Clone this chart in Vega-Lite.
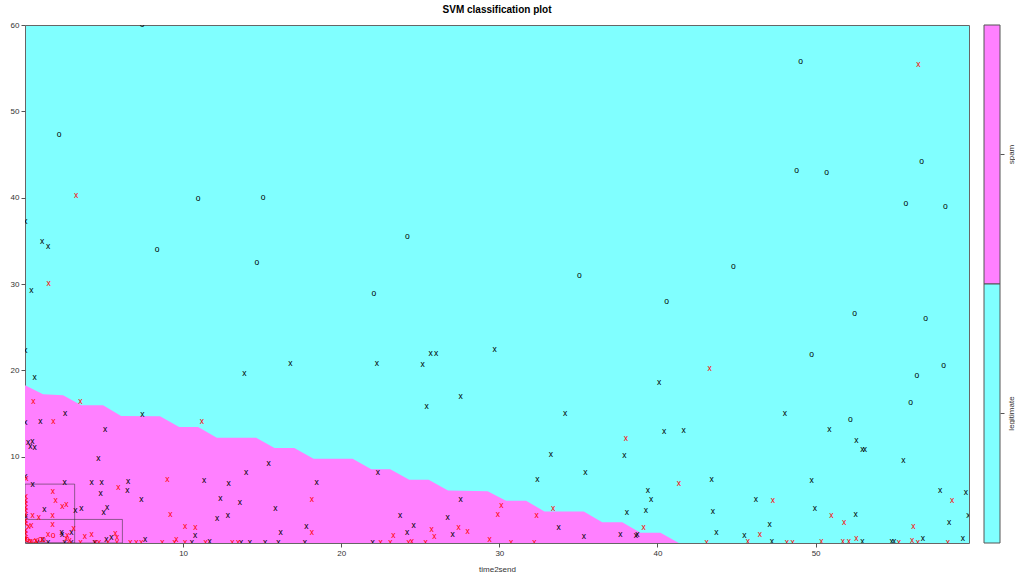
{
  "$schema": "https://vega.github.io/schema/vega-lite/v6.json",
  "padding": {"left": 5, "top": 4, "right": 0, "bottom": 0},
  "background": "white",
  "config": {"font": "Liberation Sans", "view": {"stroke": null}},
  "datasets": {
    "boundary": [
      {"t": 0, "b": 18.27}, {"t": 1.14, "b": 17.23}, {"t": 2.41, "b": 17.11}, {"t": 3.56, "b": 15.95}, {"t": 4.94, "b": 15.95},
      {"t": 6.08, "b": 14.71}, {"t": 8.54, "b": 14.68}, {"t": 9.75, "b": 13.43}, {"t": 10.95, "b": 13.43}, {"t": 12.13, "b": 12.2},
      {"t": 14.62, "b": 12.2}, {"t": 15.78, "b": 11.0}, {"t": 17.03, "b": 11.0}, {"t": 18.25, "b": 9.77}, {"t": 20.72, "b": 9.77},
      {"t": 21.9, "b": 8.53}, {"t": 23.1, "b": 8.53}, {"t": 24.3, "b": 7.33}, {"t": 25.53, "b": 7.33}, {"t": 26.75, "b": 6.09},
      {"t": 29.26, "b": 6.0}, {"t": 30.42, "b": 4.9}, {"t": 31.69, "b": 4.9}, {"t": 32.85, "b": 3.65}, {"t": 35.34, "b": 3.65},
      {"t": 36.5, "b": 2.41}, {"t": 37.77, "b": 2.41}, {"t": 38.92, "b": 1.18}, {"t": 40.19, "b": 1.18}, {"t": 41.35, "b": 0}
    ],
    "boxes": [
      {"x1": 0, "x2": 3.14, "y1": 0, "y2": 6.82},
      {"x1": 0, "x2": 6.16, "y1": 0, "y2": 2.73}
    ],
    "points": [
      {"t": 7.4, "v": 60, "s": "o", "c": "legitimate"}, {"t": 2.16, "v": 47.3, "s": "o", "c": "legitimate"},
      {"t": 10.95, "v": 39.85, "s": "o", "c": "legitimate"}, {"t": 15.06, "v": 39.97, "s": "o", "c": "legitimate"},
      {"t": 8.35, "v": 33.97, "s": "o", "c": "legitimate"}, {"t": 14.66, "v": 32.4, "s": "o", "c": "legitimate"},
      {"t": 22.07, "v": 28.86, "s": "o", "c": "legitimate"}, {"t": 24.18, "v": 35.48, "s": "o", "c": "legitimate"},
      {"t": 49.05, "v": 55.74, "s": "o", "c": "legitimate"}, {"t": 48.8, "v": 43.1, "s": "o", "c": "legitimate"},
      {"t": 50.7, "v": 42.9, "s": "o", "c": "legitimate"}, {"t": 56.7, "v": 44.1, "s": "o", "c": "legitimate"},
      {"t": 55.7, "v": 39.3, "s": "o", "c": "legitimate"}, {"t": 58.2, "v": 38.9, "s": "o", "c": "legitimate"},
      {"t": 44.8, "v": 32.0, "s": "o", "c": "legitimate"}, {"t": 35.06, "v": 30.9, "s": "o", "c": "legitimate"},
      {"t": 40.57, "v": 27.9, "s": "o", "c": "legitimate"}, {"t": 52.47, "v": 26.5, "s": "o", "c": "legitimate"},
      {"t": 56.96, "v": 25.9, "s": "o", "c": "legitimate"}, {"t": 49.75, "v": 21.75, "s": "o", "c": "legitimate"},
      {"t": 58.1, "v": 20.5, "s": "o", "c": "legitimate"}, {"t": 56.4, "v": 19.4, "s": "o", "c": "legitimate"},
      {"t": 56.0, "v": 16.2, "s": "o", "c": "legitimate"}, {"t": 52.2, "v": 14.2, "s": "o", "c": "legitimate"},
      {"t": 3.23, "v": 40.2, "s": "x", "c": "spam"}, {"t": 56.5, "v": 55.4, "s": "x", "c": "spam"},
      {"t": 1.5, "v": 29.95, "s": "x", "c": "spam"}, {"t": 43.3, "v": 20.1, "s": "x", "c": "spam"},
      {"t": 1.08, "v": 34.83, "s": "x", "c": "legitimate"}, {"t": 1.46, "v": 34.25, "s": "x", "c": "legitimate"},
      {"t": 0.4, "v": 29.2, "s": "x", "c": "legitimate"}, {"t": 0.02, "v": 37.2, "s": "x", "c": "legitimate"},
      {"t": 0.02, "v": 22.2, "s": "x", "c": "legitimate"}, {"t": 29.7, "v": 22.37, "s": "x", "c": "legitimate"},
      {"t": 25.65, "v": 21.87, "s": "x", "c": "legitimate"}, {"t": 26.0, "v": 21.87, "s": "x", "c": "legitimate"},
      {"t": 25.15, "v": 20.63, "s": "x", "c": "legitimate"}, {"t": 22.26, "v": 20.79, "s": "x", "c": "legitimate"},
      {"t": 16.79, "v": 20.7, "s": "x", "c": "legitimate"}, {"t": 13.88, "v": 19.58, "s": "x", "c": "legitimate"},
      {"t": 0.61, "v": 19.12, "s": "x", "c": "legitimate"}, {"t": 40.1, "v": 18.58, "s": "x", "c": "legitimate"},
      {"t": 27.55, "v": 16.88, "s": "x", "c": "legitimate"}, {"t": 25.4, "v": 15.75, "s": "x", "c": "legitimate"},
      {"t": 34.16, "v": 14.94, "s": "x", "c": "legitimate"}, {"t": 48.06, "v": 14.99, "s": "x", "c": "legitimate"},
      {"t": 7.43, "v": 14.83, "s": "x", "c": "legitimate"}, {"t": 2.53, "v": 14.94, "s": "x", "c": "legitimate"},
      {"t": 0.02, "v": 13.94, "s": "x", "c": "legitimate"}, {"t": 0.97, "v": 13.98, "s": "x", "c": "legitimate"},
      {"t": 5.06, "v": 13.13, "s": "x", "c": "legitimate"}, {"t": 40.42, "v": 12.82, "s": "x", "c": "legitimate"},
      {"t": 41.65, "v": 12.93, "s": "x", "c": "legitimate"}, {"t": 50.87, "v": 13.13, "s": "x", "c": "legitimate"},
      {"t": 52.57, "v": 11.77, "s": "x", "c": "legitimate"}, {"t": 52.95, "v": 10.73, "s": "x", "c": "legitimate"},
      {"t": 53.12, "v": 10.81, "s": "x", "c": "legitimate"}, {"t": 55.55, "v": 9.49, "s": "x", "c": "legitimate"},
      {"t": 33.25, "v": 10.23, "s": "x", "c": "legitimate"}, {"t": 37.91, "v": 10.07, "s": "x", "c": "legitimate"},
      {"t": 0.19, "v": 11.54, "s": "x", "c": "legitimate"}, {"t": 0.46, "v": 11.69, "s": "x", "c": "legitimate"},
      {"t": 0.34, "v": 11.11, "s": "x", "c": "legitimate"}, {"t": 0.61, "v": 10.96, "s": "x", "c": "legitimate"},
      {"t": 4.64, "v": 9.77, "s": "x", "c": "legitimate"}, {"t": 15.4, "v": 9.1, "s": "x", "c": "legitimate"},
      {"t": 13.99, "v": 8.1, "s": "x", "c": "legitimate"}, {"t": 35.44, "v": 8.1, "s": "x", "c": "legitimate"},
      {"t": 22.32, "v": 8.1, "s": "x", "c": "legitimate"}, {"t": 32.4, "v": 7.33, "s": "x", "c": "legitimate"},
      {"t": 43.42, "v": 7.25, "s": "x", "c": "legitimate"}, {"t": 49.75, "v": 7.21, "s": "x", "c": "legitimate"},
      {"t": 11.33, "v": 7.17, "s": "x", "c": "legitimate"}, {"t": 12.87, "v": 6.79, "s": "x", "c": "legitimate"},
      {"t": 18.44, "v": 6.98, "s": "x", "c": "legitimate"}, {"t": 0.02, "v": 7.63, "s": "x", "c": "legitimate"},
      {"t": 0.49, "v": 6.71, "s": "x", "c": "legitimate"}, {"t": 2.51, "v": 6.94, "s": "x", "c": "legitimate"},
      {"t": 4.22, "v": 6.94, "s": "x", "c": "legitimate"}, {"t": 4.85, "v": 6.94, "s": "x", "c": "legitimate"},
      {"t": 6.52, "v": 7.1, "s": "x", "c": "legitimate"}, {"t": 6.47, "v": 6.01, "s": "x", "c": "legitimate"},
      {"t": 4.79, "v": 5.66, "s": "x", "c": "legitimate"}, {"t": 39.39, "v": 5.97, "s": "x", "c": "legitimate"},
      {"t": 57.87, "v": 5.97, "s": "x", "c": "legitimate"}, {"t": 59.5, "v": 5.78, "s": "x", "c": "legitimate"},
      {"t": 39.6, "v": 5.01, "s": "x", "c": "legitimate"}, {"t": 46.22, "v": 4.93, "s": "x", "c": "legitimate"},
      {"t": 7.36, "v": 4.93, "s": "x", "c": "legitimate"}, {"t": 12.36, "v": 5.05, "s": "x", "c": "legitimate"},
      {"t": 13.59, "v": 4.66, "s": "x", "c": "legitimate"}, {"t": 27.55, "v": 4.97, "s": "x", "c": "legitimate"},
      {"t": 1.22, "v": 3.77, "s": "x", "c": "legitimate"}, {"t": 3.18, "v": 3.69, "s": "x", "c": "legitimate"},
      {"t": 3.56, "v": 3.92, "s": "x", "c": "legitimate"}, {"t": 5.19, "v": 4.04, "s": "x", "c": "legitimate"},
      {"t": 4.98, "v": 3.42, "s": "x", "c": "legitimate"}, {"t": 15.84, "v": 3.89, "s": "x", "c": "legitimate"},
      {"t": 49.96, "v": 3.89, "s": "x", "c": "legitimate"}, {"t": 38.06, "v": 3.42, "s": "x", "c": "legitimate"},
      {"t": 39.26, "v": 3.73, "s": "x", "c": "legitimate"}, {"t": 43.5, "v": 3.58, "s": "x", "c": "legitimate"},
      {"t": 59.66, "v": 3.07, "s": "x", "c": "legitimate"}, {"t": 52.53, "v": 3.19, "s": "x", "c": "legitimate"},
      {"t": 23.73, "v": 3.11, "s": "x", "c": "legitimate"}, {"t": 12.83, "v": 3.11, "s": "x", "c": "legitimate"},
      {"t": 12.15, "v": 2.76, "s": "x", "c": "legitimate"}, {"t": 26.73, "v": 2.92, "s": "x", "c": "legitimate"},
      {"t": 58.44, "v": 2.34, "s": "x", "c": "legitimate"}, {"t": 47.09, "v": 2.03, "s": "x", "c": "legitimate"},
      {"t": 24.58, "v": 1.95, "s": "x", "c": "legitimate"}, {"t": 17.8, "v": 1.83, "s": "x", "c": "legitimate"},
      {"t": 33.75, "v": 1.68, "s": "x", "c": "legitimate"}, {"t": 43.73, "v": 1.18, "s": "x", "c": "legitimate"},
      {"t": 16.16, "v": 1.14, "s": "x", "c": "legitimate"}, {"t": 24.16, "v": 1.14, "s": "x", "c": "legitimate"},
      {"t": 2.32, "v": 1.14, "s": "x", "c": "legitimate"}, {"t": 2.93, "v": 1.14, "s": "x", "c": "legitimate"},
      {"t": 2.34, "v": 0.95, "s": "x", "c": "legitimate"}, {"t": 27.04, "v": 0.91, "s": "x", "c": "legitimate"},
      {"t": 37.66, "v": 0.87, "s": "x", "c": "legitimate"}, {"t": 38.63, "v": 0.83, "s": "x", "c": "legitimate"},
      {"t": 38.73, "v": 0.95, "s": "x", "c": "legitimate"}, {"t": 10.76, "v": 0.79, "s": "x", "c": "legitimate"},
      {"t": 45.49, "v": 0.79, "s": "x", "c": "legitimate"}, {"t": 35.34, "v": 0.67, "s": "x", "c": "legitimate"},
      {"t": 5.46, "v": 0.56, "s": "x", "c": "legitimate"}, {"t": 56.79, "v": 0.41, "s": "x", "c": "legitimate"},
      {"t": 59.32, "v": 0.52, "s": "x", "c": "legitimate"}, {"t": 1.12, "v": 0.4, "s": "x", "c": "legitimate"},
      {"t": 7.59, "v": 0.29, "s": "x", "c": "legitimate"}, {"t": 5.15, "v": 0.29, "s": "x", "c": "legitimate"},
      {"t": 11.67, "v": 0.17, "s": "x", "c": "legitimate"}, {"t": 47.23, "v": 0.17, "s": "x", "c": "legitimate"},
      {"t": 54.8, "v": 0.17, "s": "x", "c": "legitimate"}, {"t": 54.96, "v": 0.06, "s": "x", "c": "legitimate"},
      {"t": 52.95, "v": 0.06, "s": "x", "c": "legitimate"}, {"t": 10.55, "v": 0.03, "s": "x", "c": "legitimate"},
      {"t": 13.67, "v": 0.03, "s": "x", "c": "legitimate"}, {"t": 14.22, "v": 0.03, "s": "x", "c": "legitimate"},
      {"t": 15.19, "v": 0.03, "s": "x", "c": "legitimate"}, {"t": 16.03, "v": 0.03, "s": "x", "c": "legitimate"},
      {"t": 17.7, "v": 0.03, "s": "x", "c": "legitimate"}, {"t": 21.98, "v": 0.03, "s": "x", "c": "legitimate"},
      {"t": 2.51, "v": 0.05, "s": "x", "c": "legitimate"}, {"t": 2.93, "v": 0.05, "s": "x", "c": "legitimate"},
      {"t": 4.41, "v": 0.03, "s": "x", "c": "legitimate"}, {"t": 1.46, "v": 0.05, "s": "x", "c": "legitimate"},
      {"t": 0.78, "v": 0.05, "s": "x", "c": "legitimate"}, {"t": 0.05, "v": 3.0, "s": "x", "c": "legitimate"},
      {"t": 0.53, "v": 16.3, "s": "x", "c": "spam"}, {"t": 3.5, "v": 16.3, "s": "x", "c": "spam"},
      {"t": 1.79, "v": 14.06, "s": "x", "c": "spam"}, {"t": 11.18, "v": 13.98, "s": "x", "c": "spam"},
      {"t": 38.0, "v": 12.04, "s": "x", "c": "spam"}, {"t": 41.35, "v": 6.79, "s": "x", "c": "spam"},
      {"t": 9.0, "v": 7.29, "s": "x", "c": "spam"}, {"t": 0.08, "v": 7.4, "s": "x", "c": "spam"},
      {"t": 5.91, "v": 6.4, "s": "x", "c": "spam"}, {"t": 1.77, "v": 5.9, "s": "x", "c": "spam"},
      {"t": 47.3, "v": 4.85, "s": "x", "c": "spam"}, {"t": 58.63, "v": 4.81, "s": "x", "c": "spam"},
      {"t": 18.14, "v": 4.93, "s": "x", "c": "spam"}, {"t": 30.13, "v": 4.23, "s": "x", "c": "spam"},
      {"t": 1.94, "v": 4.85, "s": "x", "c": "spam"}, {"t": 2.62, "v": 4.43, "s": "x", "c": "spam"},
      {"t": 2.36, "v": 4.12, "s": "x", "c": "spam"}, {"t": 33.4, "v": 3.92, "s": "x", "c": "spam"},
      {"t": 29.9, "v": 3.27, "s": "x", "c": "spam"}, {"t": 32.36, "v": 3.11, "s": "x", "c": "spam"},
      {"t": 9.2, "v": 3.23, "s": "x", "c": "spam"}, {"t": 51.0, "v": 3.07, "s": "x", "c": "spam"},
      {"t": 1.75, "v": 3.11, "s": "x", "c": "spam"}, {"t": 0.49, "v": 3.1, "s": "x", "c": "spam"},
      {"t": 0.87, "v": 2.92, "s": "x", "c": "spam"}, {"t": 51.8, "v": 2.26, "s": "x", "c": "spam"},
      {"t": 1.75, "v": 2.11, "s": "x", "c": "spam"}, {"t": 0.4, "v": 2.0, "s": "x", "c": "spam"},
      {"t": 0.23, "v": 1.83, "s": "x", "c": "spam"}, {"t": 10.13, "v": 1.91, "s": "x", "c": "spam"},
      {"t": 10.78, "v": 1.72, "s": "x", "c": "spam"}, {"t": 56.18, "v": 1.83, "s": "x", "c": "spam"},
      {"t": 27.42, "v": 1.76, "s": "x", "c": "spam"}, {"t": 39.13, "v": 1.68, "s": "x", "c": "spam"},
      {"t": 3.08, "v": 1.57, "s": "x", "c": "spam"}, {"t": 25.72, "v": 1.53, "s": "x", "c": "spam"},
      {"t": 28.0, "v": 1.22, "s": "x", "c": "spam"}, {"t": 18.14, "v": 1.18, "s": "x", "c": "spam"},
      {"t": 46.48, "v": 0.87, "s": "x", "c": "spam"}, {"t": 1.47, "v": 0.91, "s": "x", "c": "spam"},
      {"t": 3.78, "v": 0.75, "s": "x", "c": "spam"}, {"t": 4.22, "v": 0.87, "s": "x", "c": "spam"},
      {"t": 5.72, "v": 0.99, "s": "x", "c": "spam"}, {"t": 5.82, "v": 0.56, "s": "x", "c": "spam"},
      {"t": 2.68, "v": 0.79, "s": "x", "c": "spam"}, {"t": 2.61, "v": 0.49, "s": "x", "c": "spam"},
      {"t": 25.89, "v": 0.75, "s": "x", "c": "spam"}, {"t": 23.29, "v": 0.83, "s": "x", "c": "spam"},
      {"t": 52.57, "v": 0.52, "s": "x", "c": "spam"}, {"t": 9.58, "v": 0.33, "s": "x", "c": "spam"},
      {"t": 29.39, "v": 0.37, "s": "x", "c": "spam"}, {"t": 2.83, "v": 0.21, "s": "x", "c": "spam"},
      {"t": 45.72, "v": 0.17, "s": "x", "c": "spam"}, {"t": 56.1, "v": 0.21, "s": "x", "c": "spam"},
      {"t": 51.73, "v": 0.17, "s": "x", "c": "spam"}, {"t": 52.1, "v": 0.09, "s": "x", "c": "spam"},
      {"t": 3.52, "v": 0.03, "s": "x", "c": "spam"}, {"t": 4.47, "v": 0.03, "s": "x", "c": "spam"},
      {"t": 4.68, "v": 0.03, "s": "x", "c": "spam"}, {"t": 5.25, "v": 0.03, "s": "x", "c": "spam"},
      {"t": 5.82, "v": 0.03, "s": "x", "c": "spam"}, {"t": 6.66, "v": 0.03, "s": "x", "c": "spam"},
      {"t": 7.04, "v": 0.03, "s": "x", "c": "spam"}, {"t": 7.36, "v": 0.03, "s": "x", "c": "spam"},
      {"t": 8.69, "v": 0.03, "s": "x", "c": "spam"}, {"t": 9.47, "v": 0.03, "s": "x", "c": "spam"},
      {"t": 10.13, "v": 0.03, "s": "x", "c": "spam"}, {"t": 11.43, "v": 0.03, "s": "x", "c": "spam"},
      {"t": 13.12, "v": 0.03, "s": "x", "c": "spam"}, {"t": 13.48, "v": 0.03, "s": "x", "c": "spam"},
      {"t": 22.49, "v": 0.03, "s": "x", "c": "spam"}, {"t": 23.1, "v": 0.03, "s": "x", "c": "spam"},
      {"t": 24.26, "v": 0.03, "s": "x", "c": "spam"}, {"t": 24.47, "v": 0.15, "s": "x", "c": "spam"},
      {"t": 25.34, "v": 0.03, "s": "x", "c": "spam"}, {"t": 30.74, "v": 0.03, "s": "x", "c": "spam"},
      {"t": 32.22, "v": 0.03, "s": "x", "c": "spam"}, {"t": 43.1, "v": 0.03, "s": "x", "c": "spam"},
      {"t": 48.18, "v": 0.03, "s": "x", "c": "spam"}, {"t": 48.54, "v": 0.03, "s": "x", "c": "spam"},
      {"t": 50.36, "v": 0.06, "s": "x", "c": "spam"}, {"t": 55.27, "v": 0.03, "s": "x", "c": "spam"},
      {"t": 56.47, "v": 0.03, "s": "x", "c": "spam"}, {"t": 58.37, "v": 0.03, "s": "x", "c": "spam"},
      {"t": 0.05, "v": 5.3, "s": "x", "c": "spam"}, {"t": 0.05, "v": 4.9, "s": "x", "c": "spam"},
      {"t": 0.05, "v": 4.5, "s": "x", "c": "spam"}, {"t": 0.05, "v": 4.1, "s": "x", "c": "spam"},
      {"t": 0.05, "v": 3.7, "s": "x", "c": "spam"}, {"t": 0.05, "v": 3.3, "s": "x", "c": "spam"},
      {"t": 0.05, "v": 2.6, "s": "x", "c": "spam"}, {"t": 0.05, "v": 2.2, "s": "x", "c": "spam"},
      {"t": 0.05, "v": 1.4, "s": "x", "c": "spam"}, {"t": 0.05, "v": 1.0, "s": "x", "c": "spam"},
      {"t": 0.05, "v": 0.6, "s": "x", "c": "spam"}, {"t": 0.05, "v": 0.3, "s": "x", "c": "spam"},
      {"t": 0.35, "v": 0.1, "s": "x", "c": "spam"}, {"t": 0.7, "v": 0.2, "s": "x", "c": "spam"},
      {"t": 1.77, "v": 0.79, "s": "o", "c": "spam"}, {"t": 0.97, "v": 0.4, "s": "o", "c": "spam"},
      {"t": 1.18, "v": 0.29, "s": "o", "c": "spam"}, {"t": 0.3, "v": 0.15, "s": "o", "c": "spam"},
      {"t": 0.6, "v": 0.1, "s": "o", "c": "spam"}, {"t": 0.15, "v": 0.3, "s": "o", "c": "spam"}
    ],
    "key": [{"cls": "spam"}, {"cls": "legitimate"}]
  },
  "resolve": {"scale": {"color": "independent"}},
  "spacing": 13,
  "hconcat": [
    {
      "width": 944,
      "height": 518,
      "title": {"text": "SVM classification plot", "fontSize": 10, "fontWeight": "bold", "font": "Liberation Sans", "anchor": "middle", "offset": 6, "color": "black"},
      "view": {"fill": "#80FFFF", "stroke": "#666666", "strokeWidth": 1},
      "layer": [
        {
          "data": {"name": "boundary"},
          "mark": {"type": "area", "color": "#FF80FF", "opacity": 1, "clip": true},
          "encoding": {
            "x": {"field": "t", "type": "quantitative", "scale": {"domain": [0, 59.7], "nice": false, "zero": false},
              "axis": {"values": [10, 20, 30, 40, 50], "title": "time2send", "domain": false, "grid": false, "tickSize": 4, "tickColor": "#555", "labelFontSize": 8, "labelColor": "#333", "labelPadding": 2, "titleFontSize": 8, "titleFontWeight": "normal", "titleColor": "#333", "titlePadding": 8}},
            "y": {"field": "b", "type": "quantitative", "scale": {"domain": [0, 60], "nice": false},
              "axis": {"values": [10, 20, 30, 40, 50, 60], "title": null, "domain": false, "grid": false, "tickSize": 4, "tickColor": "#555", "labelFontSize": 8, "labelColor": "#333", "labelPadding": 2, "minExtent": 19, "maxExtent": 19}}
          }
        },
        {
          "data": {"name": "boxes"},
          "mark": {"type": "rect", "fill": null, "stroke": "#333333", "strokeWidth": 1, "strokeOpacity": 0.55, "clip": true},
          "encoding": {
            "x": {"field": "x1", "type": "quantitative"},
            "x2": {"field": "x2"},
            "y": {"field": "y1", "type": "quantitative"},
            "y2": {"field": "y2"}
          }
        },
        {
          "data": {"name": "points"},
          "mark": {"type": "text", "fontSize": 8.5, "font": "Liberation Sans", "baseline": "middle", "align": "center", "clip": true, "dy": -1},
          "encoding": {
            "x": {"field": "t", "type": "quantitative"},
            "y": {"field": "v", "type": "quantitative"},
            "text": {"field": "s"},
            "color": {"field": "c", "type": "nominal", "scale": {"domain": ["legitimate", "spam"], "range": ["#000000", "#FF0000"]}, "legend": null}
          }
        }
      ]
    },
    {
      "width": 16,
      "height": 518,
      "data": {"name": "key"},
      "view": {"stroke": null},
      "mark": {"type": "rect", "stroke": "#555555", "strokeWidth": 1},
      "encoding": {
        "y": {"field": "cls", "type": "nominal", "sort": ["spam", "legitimate"], "scale": {"paddingInner": 0, "paddingOuter": 0},
          "axis": {"orient": "right", "title": null, "domain": false, "tickSize": 4, "tickColor": "#555", "labelAngle": -90, "labelAlign": "center", "labelBaseline": "top", "labelFontSize": 8, "labelColor": "#333", "labelPadding": 3}},
        "color": {"field": "cls", "type": "nominal", "scale": {"domain": ["legitimate", "spam"], "range": ["#80FFFF", "#FF80FF"]}, "legend": null}
      }
    }
  ]
}
